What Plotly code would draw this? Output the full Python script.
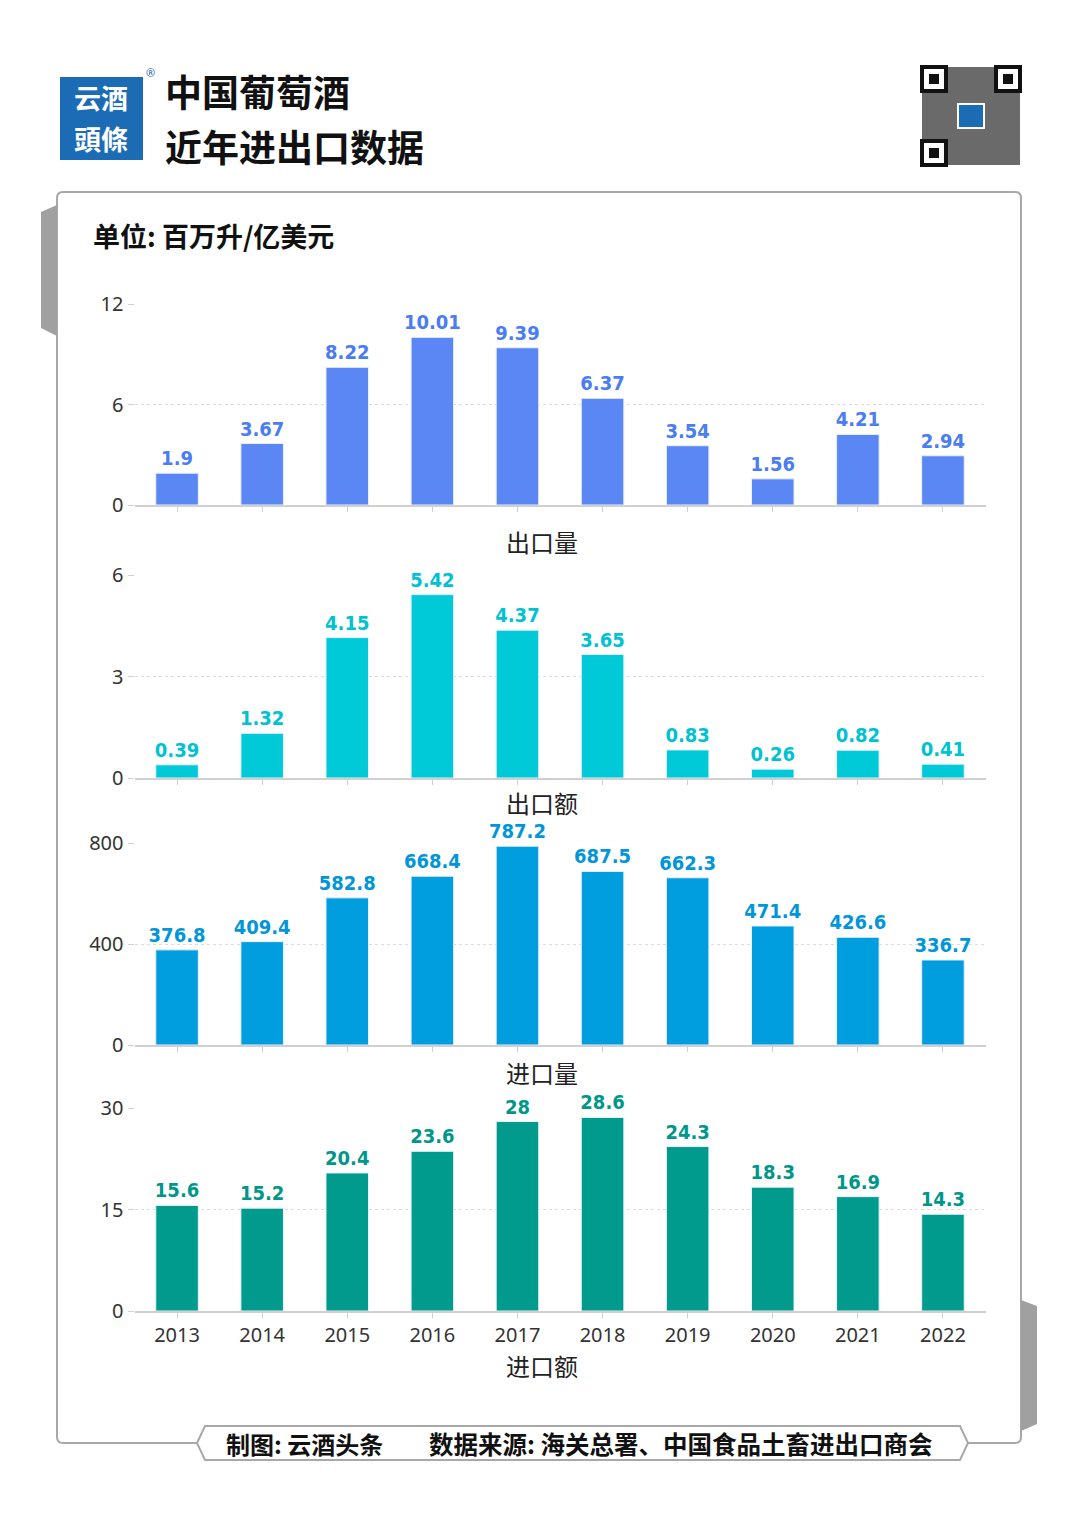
import plotly.graph_objects as go

W, H = 1080, 1529

# data
years = ["2013", "2014", "2015", "2016", "2017", "2018", "2019", "2020", "2021", "2022"]
export_volume = [1.9, 3.67, 8.22, 10.01, 9.39, 6.37, 3.54, 1.56, 4.21, 2.94]
export_value = [0.39, 1.32, 4.15, 5.42, 4.37, 3.65, 0.83, 0.26, 0.82, 0.41]
import_volume = [376.8, 409.4, 582.8, 668.4, 787.2, 687.5, 662.3, 471.4, 426.6, 336.7]
import_value = [15.6, 15.2, 20.4, 23.6, 28, 28.6, 24.3, 18.3, 16.9, 14.3]
panel_names = ["出口量", "出口额", "进口量", "进口额"]
y_ticks = [[0, 6, 12], [0, 3, 6], [0, 400, 800], [0, 15, 30]]

series = [export_volume, export_value, import_volume, import_value]
bar_colors = ["#5b87f5", "#00c9d8", "#009ddf", "#009b8c"]
text_colors = ["#4a7cf3", "#00c2d3", "#0096d9", "#00978a"]
# panel top / bottom in pixels
panel_px = [(304, 505), (575, 778), (843, 1045), (1108, 1311)]
title_py = [541, 802, 1072, 1365]


def px(x):
    return x / W


def py(y):
    return 1 - y / H


CJK = "Noto Sans CJK SC"
fig = go.Figure()
layout = dict(
    width=W, height=H,
    margin=dict(l=0, r=0, t=0, b=0, pad=0),
    paper_bgcolor="white", plot_bgcolor="white",
    showlegend=False, bargap=0.5,
    font=dict(family="Noto Sans", color="#333"),
)

for i, vals in enumerate(series):
    n = "" if i == 0 else str(i + 1)
    fig.add_trace(go.Bar(
        x=years, y=vals, xaxis="x" + n, yaxis="y" + n,
        marker=dict(color=bar_colors[i], line=dict(color="#e8f0ff", width=1)),
        text=[str(v) for v in vals], textposition="outside", constraintext="none",
        textfont=dict(family="DejaVu Sans Condensed", size=20, color=text_colors[i], weight="bold"),
        cliponaxis=False, hoverinfo="x+y",
    ))
    top, bot = panel_px[i]
    layout["xaxis" + n] = dict(
        domain=[px(134.5), px(985.5)], anchor="y" + n, automargin=False,
        showline=True, linecolor="#d0d0d0", linewidth=2,
        ticks="outside", ticklen=5, tickcolor="#d0d0d0",
        showticklabels=(i == 3), tickfont=dict(size=20, color="#333"),
        showgrid=False,
    )
    layout["yaxis" + n] = dict(
        domain=[py(bot), py(top)], anchor="x" + n, automargin=False,
        range=[0, y_ticks[i][-1]], tickvals=y_ticks[i],
        showgrid=True, gridcolor="#dcdcdc", griddash="dot", gridwidth=1,
        zeroline=False, ticks="outside", ticklen=6, tickcolor="#d0d0d0",
        tickfont=dict(size=20, color="#333"), showline=False,
    )

fig.update_layout(**layout)

shapes = []
annotations = []


def note(x, y, text, size, color="#111", family=CJK, xanchor="center"):
    annotations.append(dict(x=px(x), y=py(y), xref="paper", yref="paper", showarrow=False,
                            xanchor=xanchor, yanchor="middle",
                            text=text, font=dict(family=family, size=size, color=color)))


# card background
r = 6
x0, x1, y0, y1 = 57, 1021, 192, 1443
card = (f"M {px(x0+r)},{py(y0)} L {px(x1-r)},{py(y0)} Q {px(x1)},{py(y0)} {px(x1)},{py(y0+r)} "
        f"L {px(x1)},{py(y1-r)} Q {px(x1)},{py(y1)} {px(x1-r)},{py(y1)} "
        f"L {px(x0+r)},{py(y1)} Q {px(x0)},{py(y1)} {px(x0)},{py(y1-r)} "
        f"L {px(x0)},{py(y0+r)} Q {px(x0)},{py(y0)} {px(x0+r)},{py(y0)} Z")
shapes.append(dict(type="path", path=card, xref="paper", yref="paper",
                   line=dict(color="#a8a8a8", width=2), layer="below"))
# grey side tabs
shapes.append(dict(type="path", xref="paper", yref="paper", layer="below",
                   path=f"M {px(57)},{py(205)} L {px(41)},{py(212)} L {px(41)},{py(328)} L {px(57)},{py(336)} Z",
                   fillcolor="#a0a0a0", line=dict(width=0)))
shapes.append(dict(type="path", xref="paper", yref="paper", layer="below",
                   path=f"M {px(1021)},{py(1300)} L {px(1037)},{py(1306)} L {px(1037)},{py(1424)} L {px(1021)},{py(1431)} Z",
                   fillcolor="#a0a0a0", line=dict(width=0)))
# footer pill
shapes.append(dict(type="path", xref="paper", yref="paper",
                   path=(f"M {px(197)},{py(1443)} L {px(205)},{py(1426)} L {px(960)},{py(1426)} "
                         f"L {px(968)},{py(1443)} L {px(960)},{py(1460)} L {px(205)},{py(1460)} Z"),
                   fillcolor="white", line=dict(color="#a8a8a8", width=2)))
note(224, 1443, "<b>制图: 云酒头条</b>", 24, xanchor="left")
note(427, 1443, "<b>数据来源: 海关总署、中国食品土畜进出口商会</b>", 24.5, xanchor="left")

# logo
shapes.append(dict(type="rect", xref="paper", yref="paper", x0=px(60), x1=px(143), y0=py(160), y1=py(77),
                   fillcolor="#1b6cb5", line=dict(width=0)))
note(101, 98, "<b>云酒</b>", 27, color="white", family="Noto Sans CJK TC")
note(101, 138, "<b>頭條</b>", 27, color="white", family="Noto Sans CJK TC")
note(150, 73, "®", 11, color="#1b6cb5", family="Noto Sans")

# title
note(163, 91, "<b>中国葡萄酒</b>", 37, xanchor="left")
note(163, 146, "<b>近年进出口数据</b>", 37, xanchor="left")

# qr placeholder: grey block, finder squares and centre badge
shapes.append(dict(type="rect", xref="paper", yref="paper", x0=px(922), x1=px(1020), y0=py(165), y1=py(67),
                   fillcolor="#6a6a6a", line=dict(width=0)))
for qx, qy in [(922, 67), (996, 67), (922, 141)]:
    shapes.append(dict(type="rect", xref="paper", yref="paper", x0=px(qx), x1=px(qx + 24),
                       y0=py(qy + 24), y1=py(qy), fillcolor="white", line=dict(color="#111", width=4)))
    shapes.append(dict(type="rect", xref="paper", yref="paper", x0=px(qx + 7), x1=px(qx + 17),
                       y0=py(qy + 17), y1=py(qy + 7), fillcolor="#111", line=dict(width=0)))
shapes.append(dict(type="rect", xref="paper", yref="paper", x0=px(958), x1=px(984), y0=py(128), y1=py(104),
                   fillcolor="#1b6cb5", line=dict(color="white", width=2)))

# unit
note(91, 235, "<b>单位: 百万升/亿美元</b>", 27, xanchor="left")

# panel titles
for name, yy in zip(panel_names, title_py):
    note(542, yy, name, 24, color="#222")

fig.update_layout(shapes=shapes, annotations=annotations)

fig.write_html("out.html", config={"displayModeBar": False},
               post_script="document.body.style.margin='0';")
